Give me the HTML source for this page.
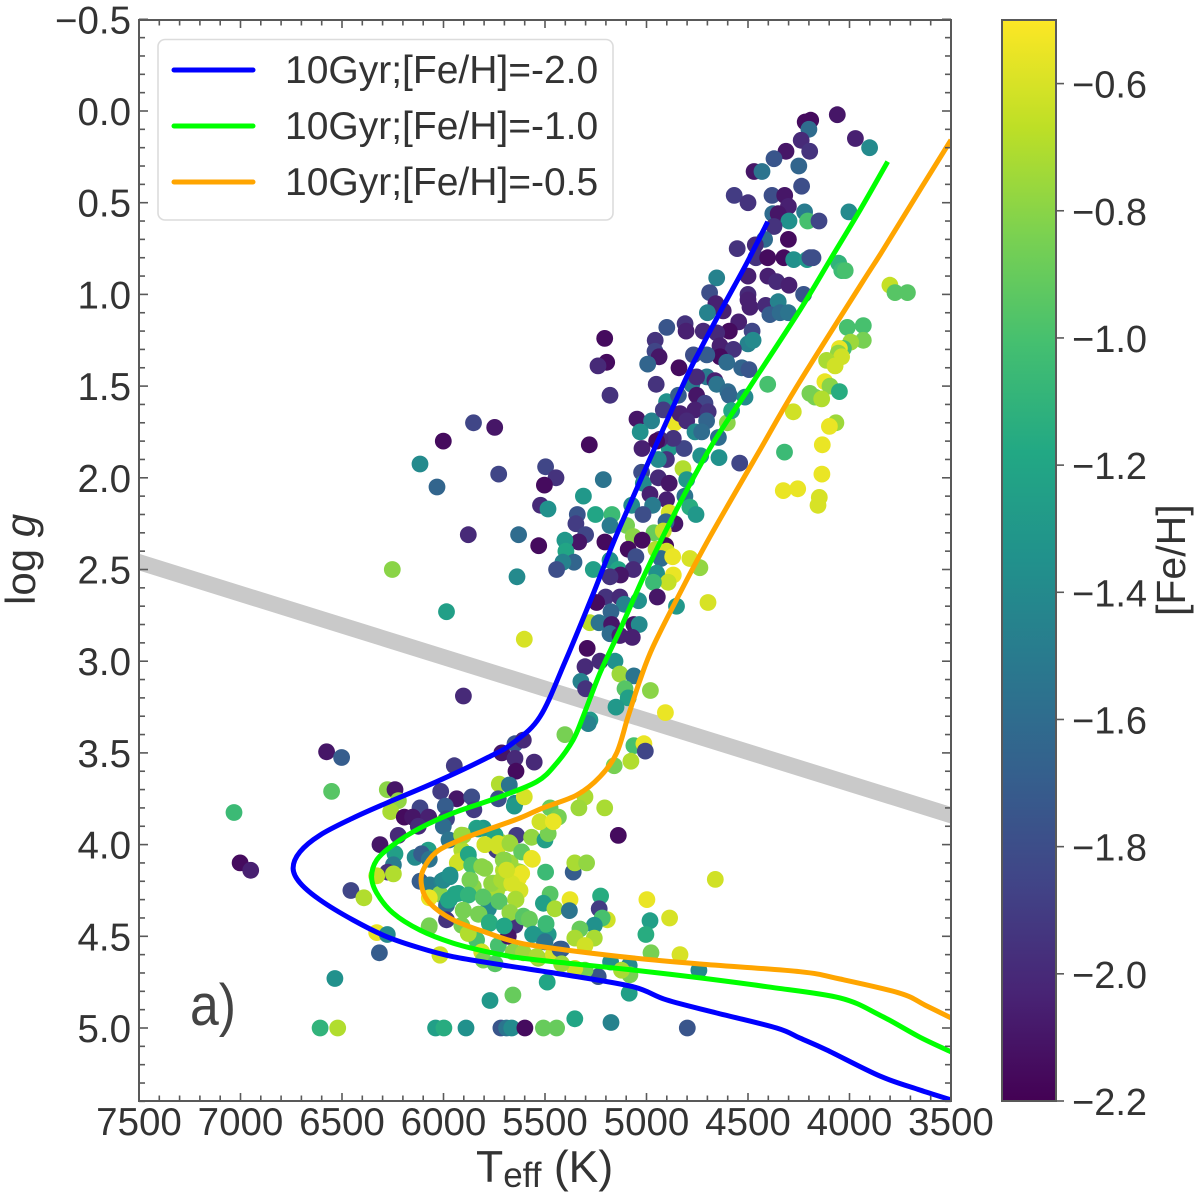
<!DOCTYPE html>
<html lang="en">
<head>
<meta charset="utf-8">
<title>log g versus effective temperature</title>
<style>
html,body{margin:0;padding:0;background:#fff;width:1200px;height:1196px;overflow:hidden}
svg{display:block}
text{font-family:"Liberation Sans",sans-serif;fill:#333}
</style>
</head>
<body>
<svg id="chart" xmlns="http://www.w3.org/2000/svg" width="1200" height="1196" viewBox="0 0 1200 1196">
  <defs>
    <clipPath id="plot-clip"><rect x="139" y="20" width="812" height="1081"></rect></clipPath>
    <linearGradient id="viridis-gradient" x1="0" y1="1" x2="0" y2="0"></linearGradient>
  </defs>
  <g id="plot-area" clip-path="url(#plot-clip)">
    <g id="divider-layer"></g>
    <g id="scatter-layer"></g>
    <g id="line-layer"></g>
  </g>
  <g id="axes-layer"></g>
  <g id="legend">
    <rect x="158" y="39.5" width="455" height="180.5" rx="7" ry="7" fill="#fff" stroke="#dcdcdc" stroke-width="1.6"></rect>
    <line x1="174" y1="70" x2="253" y2="70" stroke="#0000ff" stroke-width="5" stroke-linecap="round"></line>
    <text x="285" y="83" font-size="39">10Gyr;[Fe/H]=-2.0</text>
    <line x1="174" y1="126" x2="253" y2="126" stroke="#00ff00" stroke-width="5" stroke-linecap="round"></line>
    <text x="285" y="139" font-size="39">10Gyr;[Fe/H]=-1.0</text>
    <line x1="174" y1="182" x2="253" y2="182" stroke="#ffa500" stroke-width="5" stroke-linecap="round"></line>
    <text x="285" y="195" font-size="39">10Gyr;[Fe/H]=-0.5</text>
  </g>
  <text x="190" y="1025" font-size="58" textLength="46" lengthAdjust="spacingAndGlyphs" style="fill:#444">a)</text>
  <text x="476" y="1182" font-size="44.5">T<tspan dy="5" font-size="35">eff</tspan><tspan dy="-5"> (K)</tspan></text>
  <text transform="translate(35,605) rotate(-90)" font-size="42">log <tspan font-style="italic">g</tspan></text>
  <text transform="translate(1185,616) rotate(-90)" font-size="41">[Fe/H]</text>
  <g id="colorbar"></g>
</svg>
<script>
// Axis ticks
const xTickLabels = [7500, 7000, 6500, 6000, 5500, 5000, 4500, 4000, 3500];
const yTickLabels = [-0.5, 0.0, 0.5, 1.0, 1.5, 2.0, 2.5, 3.0, 3.5, 4.0, 4.5, 5.0];
const colorTickLabels = [-2.2, -2.0, -1.8, -1.6, -1.4, -1.2, -1.0, -0.8, -0.6];

// Star effective temperatures (K)
const teff = [
4060,4218,4191,4200,3971,3901,4238,4313,4196,4372,
4250,4470,4431,4236,4568,4500,4382,4319,4301,4221,
4003,4378,4351,4298,4206,4150,4372,4301,4418,4464,
4553,4461,4403,4323,4275,4209,4195,4180,4053,4038,
4021,4654,4500,4402,4359,4298,4226,3801,3776,3715,
4689,4500,4500,4490,4413,4351,4392,4342,4301,4658,
4622,4700,4810,4805,4900,4720,4546,4592,4480,4654,
4011,3932,3932,3994,4403,4500,4475,4638,4572,4638,
4605,4769,4703,4957,4958,4938,4994,4840,5206,5196,
5239,4531,4495,4703,4663,4654,4952,4777,4753,4599,
4030,4050,4055,4039,4113,4071,4121,4096,4050,4195,
4170,4137,4277,4067,4099,4134,4320,4136,4326,4255,
4149,4155,5180,5852,5748,6001,6116,6032,5728,5497,
5446,5503,5213,5311,5522,5485,5341,5251,5170,5348,
5300,5334,5402,5205,5878,5630,5531,5397,5357,5412,
5443,5262,6252,5638,5985,5602,5902,5047,4975,5031,
4861,4602,5022,5282,4888,4815,4902,4942,4820,4733,
4643,4541,4802,5024,5016,4942,4888,4983,4901,4811,
4970,5073,5017,4786,4756,4888,4860,4904,5180,5098,
5065,4963,4917,5021,5090,4906,4953,4901,5052,4929,
4871,4786,4737,5180,5139,5065,5128,5180,4950,4868,
4893,4966,4947,5039,4852,4697,5201,5246,5131,5109,
5175,5279,5234,5172,5062,5036,5180,5131,5070,5292,
5303,5229,5155,5131,5062,5106,4981,5323,5300,5090,
5150,4907,5279,4901,4843,4753,4712,4592,4515,4581,
4835,4761,4696,4802,4761,4704,4728,4646,4868,4934,
4950,4917,6576,6502,6551,7032,7002,6950,6277,6239,
6222,6260,5947,5713,5648,5607,5648,5553,5643,5725,
5676,6014,5935,5861,5850,5730,5648,5651,5602,5991,
6116,6193,6152,6073,6124,5998,5985,6001,6223,6313,
6239,6247,6275,6329,6247,6140,6075,6108,5973,6070,
6116,6067,6456,6392,6329,6277,6316,6017,6535,5771,
5658,6608,6521,6039,5998,5889,5717,5689,5664,5599,
5508,5443,5837,5804,5746,5640,5566,5500,5484,5525,
5475,5434,5459,5902,5796,5722,5676,5738,5730,5615,
5562,5697,5672,5910,5878,5932,5861,5796,5705,5623,
5631,5497,5968,6009,5869,5755,5705,5656,5853,6017,
5943,5971,5878,5804,5725,5643,5738,5623,5475,5508,
5451,6070,5985,5902,5828,5779,5673,5985,5774,5700,
5648,5607,5577,5495,6071,5878,5910,5837,5730,5681,
5561,5484,5503,5812,5804,5746,5656,5607,5533,5459,
5489,5426,5402,5287,5062,5013,5006,5159,5077,5303,
5333,5206,5139,5361,5353,5295,4661,5226,5233,5377,
5380,4998,4886,4983,5003,5193,5218,5257,5328,5257,
5353,5303,5418,4978,4835,4742,5177,5085,5082,5123,
5238,5303,5085,5353,5353,5175,4799,5541,5418,
5829,5747,5911,5796,5730,5673,5615,5566,5927,5878,
5861,5706,5812,5632,5615,5870,5763,5714,5664,5689,
6001,5968,5976,5927,5878,5804,5727,5645,5673,5903,
5825,5774,5701,5878,5607,5577,5495,5558,5500,6070,6017
];

// Star surface gravities (log g)
const logg = [
0.02,0.06,0.05,0.10,0.15,0.20,0.16,0.22,0.22,0.26,
0.30,0.33,0.33,0.41,0.46,0.50,0.46,0.46,0.52,0.55,
0.55,0.56,0.56,0.60,0.60,0.60,0.63,0.70,0.70,0.73,
0.75,0.80,0.80,0.80,0.81,0.81,0.80,0.80,0.83,0.87,
0.87,0.91,0.90,0.90,0.93,0.95,1.00,0.95,0.99,0.99,
0.99,1.00,1.03,1.07,1.06,1.04,1.11,1.10,1.10,1.05,
1.09,1.10,1.16,1.20,1.18,1.20,1.15,1.20,1.20,1.21,
1.18,1.17,1.25,1.26,1.49,1.27,1.25,1.28,1.30,1.34,
1.37,1.33,1.33,1.25,1.31,1.34,1.38,1.40,1.24,1.37,
1.39,1.40,1.41,1.45,1.47,1.49,1.49,1.49,1.45,1.53,
1.295,1.295,1.32,1.34,1.36,1.39,1.476,1.50,1.53,1.54,
1.56,1.57,1.64,1.70,1.72,1.82,1.86,1.98,2.07,2.06,
2.107,2.15,1.55,1.70,1.725,1.80,1.925,2.05,1.98,1.94,
2.00,2.04,2.01,2.10,2.15,2.17,2.20,2.20,2.20,2.25,
2.31,2.35,2.34,2.35,2.31,2.31,2.37,2.40,2.46,2.46,
2.50,2.50,2.50,2.54,2.73,2.88,3.19,1.68,1.69,1.75,
1.70,1.70,1.84,1.82,1.84,1.84,1.90,1.90,1.95,1.88,
1.89,1.92,2.01,1.97,2.03,2.00,2.03,2.09,2.12,2.10,
2.15,2.15,2.20,2.16,2.20,2.19,2.25,2.24,2.26,2.26,
2.32,2.30,2.29,2.34,2.39,2.37,2.39,2.40,2.43,2.44,
2.43,2.44,2.49,2.45,2.50,2.50,2.53,2.54,2.52,2.53,
2.57,2.57,2.65,2.67,2.70,2.68,2.65,2.68,2.65,2.69,
2.73,2.79,2.79,2.80,2.80,2.80,2.85,2.86,2.87,2.93,
3.03,3.00,3.00,3.07,3.08,3.15,3.16,3.11,3.15,3.20,
3.25,3.28,3.32,1.585,1.55,1.55,1.594,1.55,1.56,1.634,
1.65,1.63,1.64,1.69,1.75,1.69,1.75,1.78,1.785,1.79,
1.80,1.63,3.494,3.525,3.71,3.825,4.10,4.14,3.70,3.70,
3.76,3.82,3.57,3.50,3.45,3.43,3.53,3.55,3.60,3.67,
3.675,3.71,3.75,3.74,3.81,3.75,3.775,3.79,3.74,3.79,
3.80,3.85,3.85,3.85,3.90,3.875,3.86,3.90,3.95,4.00,
4.05,4.11,4.15,4.17,4.16,4.07,4.03,4.05,3.975,4.08,
4.20,4.22,4.25,4.29,4.48,4.49,4.59,4.60,4.73,4.85,
4.82,5.00,5.00,5.00,5.00,5.00,5.00,5.00,5.00,5.00,
5.00,5.00,3.91,3.91,3.95,3.95,3.96,3.975,3.94,3.875,
3.80,3.85,3.875,3.95,4.00,3.985,3.99,4.03,4.01,4.04,
4.08,4.085,4.10,4.03,4.06,4.10,4.11,4.13,4.14,4.15,
4.185,4.15,4.175,4.20,4.19,4.21,4.21,4.21,4.23,4.27,
4.27,4.30,4.275,4.285,4.31,4.30,4.25,4.25,4.27,4.32,
4.35,4.29,4.33,4.36,4.38,4.35,4.37,4.41,4.43,4.445,
4.44,4.39,4.41,4.43,4.45,4.485,4.44,4.52,4.55,4.50,
4.49,4.49,4.53,4.585,4.63,4.65,4.585,4.59,4.62,4.60,
4.75,4.57,3.40,3.34,3.46,3.45,3.49,3.57,3.545,3.74,
3.80,3.80,3.95,4.15,4.10,4.10,4.19,4.28,4.35,4.30,
4.36,4.30,4.40,4.415,4.49,4.41,4.40,4.44,4.46,4.51,
4.51,4.55,4.57,4.59,4.60,4.685,4.64,4.66,4.71,4.685,
4.72,4.685,4.81,4.675,4.95,4.97,5.00,4.61,4.65,
3.915,3.948,3.948,4.00,3.994,3.994,4.04,4.075,4.093,4.053,
4.112,4.084,4.12,4.148,4.157,4.194,4.212,4.194,4.212,4.139,
4.194,4.166,4.303,4.266,4.275,4.288,4.308,4.297,4.37,4.357,
4.379,4.424,4.444,4.484,4.394,4.406,4.434,4.488,4.53,4.443,4.603
];

// Star metallicities ([Fe/H])
const feh = [
-2.1,-2.15,-2.15,-1.6,-2.05,-1.4,-2.0,-2.1,-1.95,-1.75,
-1.65,-2.1,-1.55,-1.8,-1.9,-1.95,-1.8,-2.1,-2.05,-1.5,
-1.4,-1.6,-2.1,-1.35,-1.0,-1.85,-1.95,-2.15,-1.6,-2.0,
-1.95,-1.95,-2.15,-2.15,-1.35,-1.3,-1.8,-1.8,-1.1,-1.05,
-1.0,-1.45,-2.05,-2.05,-2.0,-2.05,-1.75,-0.65,-0.95,-0.95,
-1.8,-2.0,-2.05,-2.05,-2.0,-1.45,-1.7,-1.6,-1.55,-2.05,
-2.05,-1.45,-1.95,-2.05,-1.75,-2.0,-2.05,-2.15,-1.85,-2.0,
-1.0,-1.0,-0.85,-0.75,-1.0,-1.45,-1.4,-2.05,-1.95,-2.15,
-1.6,-1.8,-1.7,-1.95,-1.85,-2.1,-1.65,-2.15,-2.15,-2.15,
-2.0,-1.65,-1.75,-1.5,-2.05,-1.55,-1.95,-1.5,-2.0,-1.6,
-1.0,-0.55,-0.78,-0.62,-0.72,-0.62,-0.55,-0.8,-1.15,-0.85,
-0.85,-0.7,-0.62,-0.75,-0.55,-0.55,-1.05,-0.55,-0.55,-0.55,
-0.6,-0.6,-1.95,-1.85,-2.1,-2.15,-1.4,-1.65,-1.85,-1.85,
-1.95,-2.15,-1.55,-1.3,-2.0,-1.35,-1.75,-1.2,-1.05,-1.9,
-1.85,-2.1,-1.3,-2.15,-2.0,-1.6,-2.15,-1.2,-1.65,-1.45,
-1.8,-1.25,-0.8,-1.4,-1.25,-0.6,-2.0,-2.1,-1.45,-1.35,
-0.55,-0.8,-2.05,-2.15,-1.3,-1.85,-1.95,-1.4,-0.7,-1.35,
-1.35,-1.85,-1.3,-1.8,-1.4,-2.0,-2.1,-2.05,-2.05,-1.55,
-1.5,-1.4,-1.8,-1.15,-1.3,-0.6,-2.1,-1.65,-1.5,-0.85,
-0.8,-0.9,-0.65,-2.15,-2.15,-2.15,-0.7,-0.62,-1.8,-1.6,
-0.55,-0.6,-0.78,-1.35,-1.2,-2.0,-2.1,-1.95,-1.35,-0.55,
-0.65,-1.05,-2.1,-1.35,-1.3,-0.6,-1.95,-2.15,-2.0,-1.45,
-1.65,-0.68,-1.55,-2.1,-2.1,-1.4,-1.6,-2.05,-2.05,-2.15,
-2.0,-2.0,-1.35,-0.75,-1.55,-0.95,-0.8,-1.45,-1.95,-1.25,
-1.3,-0.55,-1.3,-1.35,-1.7,-2.1,-1.85,-1.65,-1.4,-1.2,
-2.05,-2.05,-1.95,-2.0,-1.4,-1.65,-1.6,-1.6,-1.95,-2.0,
-2.15,-1.9,-2.1,-1.7,-0.95,-1.05,-2.15,-2.05,-0.8,-2.1,
-0.78,-0.72,-1.9,-2.1,-1.75,-2.0,-2.0,-2.0,-2.15,-0.7,
-1.55,-1.9,-2.1,-1.8,-1.9,-1.8,-1.45,-1.3,-0.6,-1.7,
-1.85,-2.15,-2.1,-2.05,-2.0,-0.7,-1.85,-1.6,-2.0,-2.1,
-1.25,-1.5,-1.95,-0.65,-0.7,-1.4,-1.25,-1.7,-1.55,-1.55,
-1.7,-1.5,-1.85,-0.7,-0.55,-1.4,-1.7,-0.62,-1.35,-1.3,
-0.9,-1.1,-0.7,-1.25,-1.15,-1.35,-1.75,-1.55,-1.4,-2.15,
-0.9,-0.9,-1.2,-1.3,-1.25,-1.9,-0.78,-1.25,-0.85,-0.62,
-0.9,-0.85,-0.55,-0.75,-0.6,-0.75,-0.72,-1.9,-0.6,-0.95,
-0.55,-0.85,-0.75,-0.7,-1.2,-0.65,-1.0,-0.8,-0.7,-0.78,
-0.55,-1.05,-1.35,-1.45,-0.85,-0.78,-0.72,-0.6,-0.8,-0.8,
-1.2,-1.25,-1.1,-0.95,-0.95,-0.72,-0.72,-0.6,-0.95,-1.25,
-0.72,-0.55,-1.6,-0.85,-0.85,-1.4,-0.78,-1.95,-1.15,-1.2,
-1.95,-0.95,-0.9,-1.05,-0.85,-0.7,-0.85,-1.0,-1.0,-2.1,
-1.3,-1.3,-1.55,-0.62,-0.85,-0.95,-0.8,-0.75,-0.78,-0.6,
-1.2,-1.7,-0.85,-1.45,-1.0,-0.55,-1.85,-0.85,-0.7,-0.72,
-0.75,-0.72,-2.15,-1.7,-0.72,-0.78,-0.62,-1.15,-1.9,-0.55,
-1.55,-0.55,-0.6,-1.25,-1.15,-0.62,-1.0,-1.35,-0.9,-0.72,
-0.72,-0.62,-1.7,-0.85,-0.6,-1.4,-1.35,-1.4,-0.85,-0.72,
-1.75,-0.85,-1.25,-0.62,-1.2,-1.45,-1.75,-0.72,-0.75,
-1.25,-1.2,-0.75,-0.62,-0.62,-0.75,-0.92,-0.55,-0.62,-1.2,
-1.0,-0.8,-0.8,-0.75,-0.55,-0.85,-0.78,-0.72,-0.6,-0.62,
-1.4,-1.35,-1.2,-1.2,-1.1,-0.95,-0.95,-0.72,-0.78,-0.85,
-0.85,-1.15,-1.2,-0.7,-0.95,-0.9,-1.05,-1.3,-1.55,-0.85,-0.62
];

// Isochrone [Fe/H] = -2.0
const blueTeff = [4403,4506,4623,4736,4827,5131,5269,5402,5525,5658,5787,6034,6280,6446,6608,6707,6741,6707,6608,6446,6280,6116,5953,5707,5393,5067,4901,4654,4359,4244,4112,3850,3653,3500];
const blueLogg = [0.604,0.829,1.067,1.303,1.51,2.268,2.65,3.005,3.303,3.446,3.528,3.657,3.773,3.855,3.948,4.039,4.128,4.209,4.302,4.411,4.502,4.564,4.611,4.657,4.711,4.775,4.847,4.918,5.0,5.055,5.12,5.262,5.338,5.392];

// Isochrone [Fe/H] = -1.0
const greenTeff = [3812,3948,4096,4244,4490,4672,4835,4999,5131,5229,5313,5362,5442,5541,5738,5953,6116,6249,6329,6354,6329,6249,6116,5953,5787,5623,5393,5067,4736,4408,4047,3850,3653,3500];
const greenLogg = [0.276,0.54,0.813,1.085,1.503,1.81,2.137,2.503,2.83,3.064,3.303,3.43,3.555,3.657,3.746,3.828,3.91,4.002,4.084,4.175,4.264,4.373,4.466,4.537,4.584,4.618,4.646,4.684,4.727,4.775,4.836,4.93,5.05,5.13];

// Isochrone [Fe/H] = -0.5
const orangeTeff = [3500,3643,3835,3939,4260,4441,4687,4835,4968,5032,5091,5147,5229,5344,5510,5623,5787,5919,6034,6101,6107,6067,5953,5787,5623,5393,5067,4736,4244,4047,3751,3628,3500];
const orangeLogg = [0.158,0.413,0.758,0.938,1.503,1.848,2.321,2.628,2.921,3.103,3.303,3.50,3.63,3.73,3.80,3.855,3.92,3.975,4.039,4.14,4.23,4.32,4.41,4.48,4.537,4.575,4.618,4.651,4.693,4.733,4.81,4.875,4.945];

// Grey separator band end points
const bandTeff = [7500, 3500];
const bandLogg = [2.46, 3.84];

const SVG_NS = 'http://www.w3.org/2000/svg';
const plot = { left: 139, right: 951, top: 20, bottom: 1101 };
const cbar = { left: 1002, right: 1056, top: 20, bottom: 1101 };
const viridisStops = ['#440154','#482475','#414487','#355f8d','#2a788e','#21918c','#22a884','#44bf70','#7ad151','#bddf26','#fde725'];

function xScale(t) { return plot.left + (7500 - t) * (plot.right - plot.left) / 4000; }
function yScale(g) { return 111 + g * 183.4; }
function cbarScale(f) { return cbar.bottom - (f + 2.2) * (cbar.bottom - cbar.top) / 1.7; }

function hexToRgb(h) {
  return [parseInt(h.slice(1, 3), 16), parseInt(h.slice(3, 5), 16), parseInt(h.slice(5, 7), 16)];
}
function viridis(f) {
  const n = Math.max(0, Math.min(1, (f + 2.2) / 1.7)) * 10;
  const i = Math.min(9, Math.floor(n));
  const a = hexToRgb(viridisStops[i]);
  const b = hexToRgb(viridisStops[i + 1]);
  const u = n - i;
  return 'rgb(' + a.map(function (v, k) { return Math.round(v + (b[k] - v) * u); }).join(',') + ')';
}
function make(tag) { return document.createElementNS(SVG_NS, tag); }
function setAll(el, attrs) {
  Object.keys(attrs).forEach(function (k) { el.setAttribute(k, attrs[k]); });
  return el;
}
function smoothPath(ts, gs) {
  const pts = ts.map(function (t, i) { return [xScale(t), yScale(gs[i])]; });
  let d = 'M' + pts[0][0].toFixed(1) + ' ' + pts[0][1].toFixed(1);
  for (let i = 0; i < pts.length - 1; i++) {
    const p0 = pts[Math.max(0, i - 1)];
    const p1 = pts[i];
    const p2 = pts[i + 1];
    const p3 = pts[Math.min(pts.length - 1, i + 2)];
    const c1 = [p1[0] + (p2[0] - p0[0]) / 6, p1[1] + (p2[1] - p0[1]) / 6];
    const c2 = [p2[0] - (p3[0] - p1[0]) / 6, p2[1] - (p3[1] - p1[1]) / 6];
    d += 'C' + c1[0].toFixed(1) + ' ' + c1[1].toFixed(1) + ' ' + c2[0].toFixed(1) + ' ' + c2[1].toFixed(1) + ' ' + p2[0].toFixed(1) + ' ' + p2[1].toFixed(1);
  }
  return d;
}
function labelText(v, digits) {
  return v.toFixed(digits).replace('-', '\u2212');
}

// Grey band
const bandX1 = xScale(bandTeff[0]);
const bandY1 = yScale(bandLogg[0]);
const bandX2 = xScale(bandTeff[1]);
const bandY2 = yScale(bandLogg[1]);
const bandSlope = (bandY2 - bandY1) / (bandX2 - bandX1);
const bandLine = make('line');
setAll(bandLine, { x1: bandX1 - 30, y1: bandY1 - 30 * bandSlope, x2: bandX2 + 30, y2: bandY2 + 30 * bandSlope, stroke: '#c9c9c9', 'stroke-width': 16 });


document.getElementById('divider-layer').appendChild(bandLine);

// Scatter points
const scatterLayer = document.getElementById('scatter-layer');
teff.forEach(function (t, i) {
  const c = make('circle');
  setAll(c, { cx: xScale(t).toFixed(1), cy: yScale(logg[i]).toFixed(1), r: 8.4, fill: viridis(feh[i]) });
  
  
  scatterLayer.appendChild(c);
});

// Isochrones
const lineLayer = document.getElementById('line-layer');
function addLine(ts, gs, color, name) {
  const p = make('path');
  setAll(p, { d: smoothPath(ts, gs), fill: 'none', stroke: color, 'stroke-width': 5, 'stroke-linejoin': 'round' });
  
  
  lineLayer.appendChild(p);
}
addLine(blueTeff, blueLogg, '#0000ff', 'isochrone-feh-minus-2');
addLine(greenTeff, greenLogg, '#00ff00', 'isochrone-feh-minus-1');
addLine(orangeTeff, orangeLogg, '#ffa500', 'isochrone-feh-minus-0-5');

// Axes: inward ticks on all four sides, labels on left and bottom
const axesLayer = document.getElementById('axes-layer');
const AXIS_COLOR = '#595959';
function tickLine(x1, y1, x2, y2, parent, name) {
  const l = make('line');
  setAll(l, { x1: x1, y1: y1, x2: x2, y2: y2, stroke: AXIS_COLOR, 'stroke-width': 1.6 });
  
  
  parent.appendChild(l);
}
for (let t = 3500; t <= 7500; t += 100) {
  const major = (t % 500) === 0;
  const len = major ? 8 : 5.5;
  const x = xScale(t);
  tickLine(x, plot.top, x, plot.top + len, axesLayer, 'x-tick-top');
  tickLine(x, plot.bottom, x, plot.bottom - len, axesLayer, 'x-tick-bottom');
}
for (let k = -5; k <= 54; k++) {
  const major = ((k + 100) % 5) === 0;
  const len = major ? 9 : 6;
  const y = yScale(k / 10);
  tickLine(plot.left, y, plot.left + len, y, axesLayer, 'y-tick-left');
  tickLine(plot.right, y, plot.right - len, y, axesLayer, 'y-tick-right');
}
const frame = make('rect');
setAll(frame, { x: plot.left, y: plot.top, width: plot.right - plot.left, height: plot.bottom - plot.top, fill: 'none', stroke: AXIS_COLOR, 'stroke-width': 2 });


axesLayer.appendChild(frame);

xTickLabels.forEach(function (t) {
  const el = make('text');
  setAll(el, { x: xScale(t), y: 1135, 'font-size': 38.5, 'text-anchor': 'middle' });
  el.textContent = String(t);
  
  
  axesLayer.appendChild(el);
});
yTickLabels.forEach(function (g) {
  const el = make('text');
  setAll(el, { x: 131, y: yScale(g) + 14, 'font-size': 38.5, 'text-anchor': 'end' });
  el.textContent = labelText(g, 1);
  
  
  axesLayer.appendChild(el);
});

// Colorbar
const gradient = document.getElementById('viridis-gradient');
viridisStops.forEach(function (c, i) {
  const s = make('stop');
  s.setAttribute('offset', (i * 10) + '%');
  s.setAttribute('stop-color', c);
  gradient.appendChild(s);
});
const colorbar = document.getElementById('colorbar');
const cbarRect = make('rect');
setAll(cbarRect, { x: cbar.left, y: cbar.top, width: cbar.right - cbar.left, height: cbar.bottom - cbar.top, fill: 'url(#viridis-gradient)', stroke: AXIS_COLOR, 'stroke-width': 2 });


colorbar.appendChild(cbarRect);
colorTickLabels.forEach(function (f) {
  const y = cbarScale(f);
  tickLine(cbar.right, y, cbar.right + 8, y, colorbar, 'colorbar-tick');
  const el = make('text');
  setAll(el, { x: 1072, y: y + 14, 'font-size': 38 });
  el.textContent = labelText(f, 1);
  
  
  colorbar.appendChild(el);
});
</script>
</body>
</html>
